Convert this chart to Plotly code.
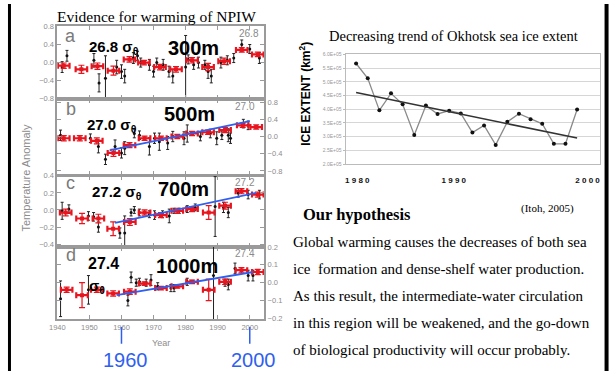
import plotly.graph_objects as go

W, H = 611, 376
def px(x): return x / W
def py(y): return 1 - y / H

# ---------------- data: left panels (temperature anomaly) ----------------
a_red_year = [1942, 1947.5, 1952.5, 1957.5, 1962.5, 1967, 1972, 1977, 1982, 1987, 1992, 1997.5, 2002.5]
a_red_val = [-0.07, -0.15, -0.08, -0.18, 0.07, 0.0, -0.1, -0.15, 0.05, -0.1, 0.03, 0.28, 0.18]
a_red_err = [0.06, 0.09, 0.07, 0.1, 0.06, 0.05, 0.06, 0.06, 0.06, 0.08, 0.07, 0.05, 0.05]
a_blk_year = [1941.5, 1943, 1951.4, 1953, 1955, 1958.5, 1960, 1961, 1963.7, 1965, 1966, 1968.7, 1970, 1971, 1973,
              1974.8, 1976, 1980, 1980.8, 1982.5, 1984, 1986, 1987, 1988, 1991, 1993, 1995, 1997.5, 2000, 2003]
a_blk_val = [-0.1, 0.15, 0.05, -0.45, -0.35, -0.1, -0.2, -0.3, 0.1, 0.15, 0.0, -0.05, -0.2, 0.0, -0.05,
             -0.2, -0.3, -0.1, 0.07, -0.05, 0.0, -0.05, -0.2, -0.3, 0.0, 0.05, 0.1, 0.4, 0.3, 0.1]
a_blk_err = [0.12, 0.12, 0.15, 0.2, 0.5, 0.15, 0.15, 0.15, 0.12, 0.1, 0.1, 0.12, 0.12, 0.1, 0.12,
             0.12, 0.15, 0.7, 0.1, 0.1, 0.12, 0.1, 0.15, 0.15, 0.12, 0.1, 0.1, 0.1, 0.1, 0.12]

b_red_year = [1942, 1947, 1952.3, 1957.5, 1962.5, 1967.2, 1972.3, 1977.4, 1982, 1987, 1992.3, 1997.8, 2002]
b_red_val = [-0.04, -0.04, -0.1, -0.38, -0.2, -0.04, -0.04, 0.0, 0.07, 0.1, 0.15, 0.26, 0.22]
b_red_err = [0.06, 0.06, 0.07, 0.08, 0.06, 0.05, 0.05, 0.05, 0.05, 0.05, 0.06, 0.05, 0.05]
b_blk_year = [1941, 1950.3, 1952.8, 1955, 1958, 1960, 1961, 1964, 1965.6, 1968.7, 1970.3, 1971.8, 1974.4, 1976,
              1979.5, 1980.5, 1984.6, 1987.7, 1989.7, 1991.3, 1993.3, 1994, 1998, 1999.5]
b_blk_val = [0.03, -0.04, -0.23, -0.53, -0.23, -0.38, -0.27, 0.07, 0.03, -0.23, -0.04, -0.12, -0.15, 0.0,
             -0.04, 0.07, 0.0, 0.07, -0.04, 0.03, 0.03, -0.04, 0.3, 0.26]
b_blk_err = [0.12, 0.1, 0.15, 0.12, 0.15, 0.12, 0.15, 0.1, 0.1, 0.2, 0.12, 0.2, 0.15, 0.12,
             0.15, 0.2, 0.1, 0.1, 0.15, 0.1, 0.15, 0.12, 0.1, 0.1]
b_trend_year = [1956.3, 2000]
b_trend_val = [-0.32, 0.36]

c_red_year = [1942.6, 1947.7, 1952.8, 1957.4, 1962.6, 1967.2, 1972.3, 1977.4, 1982, 1987.2, 1992.3, 1997.4, 2002.5]
c_red_val = [-0.03, -0.1, -0.1, -0.22, -0.14, -0.03, -0.06, -0.01, 0.01, -0.03, 0.05, 0.22, 0.18]
c_red_err = [0.04, 0.06, 0.05, 0.08, 0.04, 0.03, 0.03, 0.03, 0.03, 0.08, 0.04, 0.03, 0.03]
c_blk_year = [1941.5, 1943.6, 1949.7, 1951.3, 1952.8, 1959.5, 1961, 1963, 1964, 1965.6, 1968.7, 1970.3, 1972.8,
              1974.9, 1976.4, 1978, 1980.5, 1983, 1989.2, 1991.8, 1993.3, 1996.4, 1999.5, 2003]
c_blk_val = [-0.01, 0.01, -0.07, -0.08, -0.2, -0.27, -0.27, -0.03, 0.0, -0.03, -0.05, -0.06, -0.05,
             -0.07, -0.01, -0.01, 0.01, 0.03, 0.04, 0.03, -0.03, 0.2, 0.18, 0.18]
c_blk_err = [0.1, 0.05, 0.05, 0.05, 0.06, 0.06, 0.2, 0.04, 0.04, 0.04, 0.04, 0.05, 0.04,
             0.08, 0.03, 0.03, 0.04, 0.04, 0.35, 0.06, 0.06, 0.05, 0.05, 0.05]
c_trend_year = [1958, 2002]
c_trend_val = [-0.15, 0.2]

d_red_year = [1942.9, 1947.7, 1952.3, 1957.4, 1962.6, 1967.2, 1972.3, 1977.4, 1982, 1987.2, 1992.3, 1997.4, 2002.5]
d_red_val = [-0.04, -0.07, -0.04, -0.06, -0.05, -0.005, -0.03, -0.02, 0.005, -0.04, 0.005, 0.07, 0.06]
d_red_err = [0.015, 0.07, 0.015, 0.015, 0.015, 0.01, 0.01, 0.01, 0.01, 0.06, 0.015, 0.015, 0.015]
d_blk_year = [1941, 1949.7, 1962, 1963, 1964.6, 1965.6, 1967.7, 1969.2, 1971.3, 1975.4, 1976.4, 1980.5,
              1988.7, 1992.3, 1993.3, 1995.4, 1999.5, 2001]
d_blk_val = [-0.09, -0.04, -0.1, 0.03, 0.0, 0.005, 0.0, 0.015, -0.02, -0.03, -0.03, 0.005,
             0.04, 0.0, -0.01, 0.08, 0.04, 0.04]
d_blk_err = [0.1, 0.08, 0.03, 0.03, 0.02, 0.02, 0.02, 0.03, 0.02, 0.02, 0.02, 0.02,
             0.25, 0.02, 0.03, 0.03, 0.03, 0.03]
d_trend_year = [1958.5, 2001]
d_trend_val = [-0.07, 0.06]

year_ticks = [1940, 1950, 1960, 1970, 1980, 1990, 2000]

# ---------------- data: right chart (Okhotsk sea ice extent) ----------------
ice_year = [1980, 1981, 1982, 1983, 1984, 1985, 1986, 1987, 1988, 1989,
            1990, 1991, 1992, 1993, 1994, 1995, 1996, 1997, 1998, 1999]
ice_val = [5.67e5, 5.13e5, 3.96e5, 4.58e5, 4.18e5, 3.06e5, 4.14e5, 3.83e5, 3.95e5, 3.85e5,
           3.15e5, 3.41e5, 2.70e5, 3.54e5, 3.84e5, 3.64e5, 3.47e5, 2.74e5, 2.74e5, 3.99e5]
ice_trend_year = [1980, 1999]
ice_trend_val = [4.61e5, 2.95e5]
ice_tick_pos = [1980.1, 1988.4, 1999.9]
ice_tick_text = ["1 9 8 0", "1 9 9 0", "2 0 0 0"]
ice_ytick_val = [2.0e5, 2.5e5, 3.0e5, 3.5e5, 4.0e5, 4.5e5, 5.0e5, 5.5e5, 6.0e5]
ice_ytick_text = ["2.0E+05", "2.5E+05", "3.0E+05", "3.5E+05", "4.0E+05", "4.5E+05", "5.0E+05", "5.5E+05", "6.0E+05"]

SANS = "Liberation Sans"
SERIF = "Liberation Serif"
GRAY = "#8c8c8c"
BLUE = "#2f5ff0"

fig = go.Figure()

panels = [
    (a_red_year, a_red_val, a_red_err, a_blk_year, a_blk_val, a_blk_err, None, None),
    (b_red_year, b_red_val, b_red_err, b_blk_year, b_blk_val, b_blk_err, b_trend_year, b_trend_val),
    (c_red_year, c_red_val, c_red_err, c_blk_year, c_blk_val, c_blk_err, c_trend_year, c_trend_val),
    (d_red_year, d_red_val, d_red_err, d_blk_year, d_blk_val, d_blk_err, d_trend_year, d_trend_val),
]

for i, (ry, rv, re, ky, kv, ke, ty, tv) in enumerate(panels):
    xa = "x" if i == 0 else f"x{i+1}"
    ya = "y" if i == 0 else f"y{i+1}"
    fig.add_trace(go.Scatter(x=ky, y=kv, mode="markers", xaxis=xa, yaxis=ya,
                             marker=dict(size=3, color="#111"),
                             error_y=dict(type="data", array=ke, color="#222", thickness=1, width=1.5),
                             showlegend=False, hoverinfo="skip"))
    fig.add_trace(go.Scatter(x=ry, y=rv, mode="markers", xaxis=xa, yaxis=ya,
                             marker=dict(size=4, color="#e8141e", symbol="square"),
                             error_x=dict(type="constant", value=1.8, color="#e8141e", thickness=2.2, width=3),
                             error_y=dict(type="data", array=re, color="#e8141e", thickness=1.2, width=3),
                             showlegend=False, hoverinfo="skip"))
    if ty is not None:
        fig.add_trace(go.Scatter(x=ty, y=tv, mode="lines", xaxis=xa, yaxis=ya,
                                 line=dict(color=BLUE, width=1.8),
                                 showlegend=False, hoverinfo="skip"))

# right chart
fig.add_trace(go.Scatter(x=ice_year, y=ice_val, mode="lines+markers", xaxis="x5", yaxis="y5",
                         line=dict(color="#8a8a8a", width=1.3),
                         marker=dict(size=4, color="#111"),
                         showlegend=False, hoverinfo="skip"))
fig.add_trace(go.Scatter(x=ice_trend_year, y=ice_trend_val, mode="lines", xaxis="x5", yaxis="y5",
                         line=dict(color="#333", width=1.6),
                         showlegend=False, hoverinfo="skip"))

# ---------------- axes ----------------
ydoms = [(23, 97), (97, 175), (176, 249), (249, 323)]
yranges = [[-0.8, 0.8], [-0.89, 0.88], [-0.434, 0.4], [-0.205, 0.2]]
yticks = [[-0.8, -0.4, 0.0, 0.4, 0.8], [-0.8, -0.4, 0.0, 0.4, 0.8],
          [-0.4, -0.2, 0.0, 0.2, 0.4], [-0.2, -0.1, 0.0, 0.1, 0.2]]
ysides = ["left", "right", "left", "right"]

layout = dict(width=W, height=H, margin=dict(l=0, r=0, t=0, b=0),
              paper_bgcolor="white", plot_bgcolor="white", showlegend=False)

for i in range(4):
    xk = "xaxis" if i == 0 else f"xaxis{i+1}"
    yk = "yaxis" if i == 0 else f"yaxis{i+1}"
    ya = "y" if i == 0 else f"y{i+1}"
    xa = "x" if i == 0 else f"x{i+1}"
    layout[xk] = dict(range=[1940, 2004.5], domain=[px(50), px(259.6)], anchor=ya,
                      showline=True, mirror="allticks", linecolor="#9a9a9a", linewidth=1.8,
                      ticks="inside", ticklen=4, tickcolor="#9a9a9a", tickvals=year_ticks,
                      showgrid=False, zeroline=False, showticklabels=(i == 3),
                      tickfont=dict(family=SANS, size=7.5, color=GRAY))
    top, bot = ydoms[i]
    layout[yk] = dict(range=yranges[i], domain=[py(bot), py(top)], anchor=xa, side=ysides[i],
                      showline=True, mirror="allticks", linecolor="#9a9a9a", linewidth=1.8,
                      ticks="inside", ticklen=4, tickcolor="#9a9a9a", tickvals=yticks[i],
                      tickformat=".1f", showgrid=False, zeroline=False,
                      tickfont=dict(family=SANS, size=7.5, color=GRAY))

layout["xaxis5"] = dict(range=[1979.09, 2000.98], domain=[px(342), px(600)], anchor="y5",
                        showline=True, mirror=True, linecolor="#bbbbbb", linewidth=1,
                        showgrid=False, zeroline=False, ticks="", ticklabelstandoff=8,
                        tickvals=ice_tick_pos, ticktext=ice_tick_text,
                        tickfont=dict(family=SANS, size=8, color="#111", weight="bold"))
layout["yaxis5"] = dict(range=[2.0e5, 6.0e5], domain=[py(164), py(51.7)], anchor="x5",
                        showline=True, mirror=True, linecolor="#bbbbbb", linewidth=1,
                        showgrid=True, gridcolor="#d6d6d6", gridwidth=1, zeroline=False,
                        ticks="outside", ticklen=2, tickcolor="#bbbbbb",
                        tickvals=ice_ytick_val, ticktext=ice_ytick_text,
                        tickfont=dict(family=SANS, size=5, color="#999"))

fig.update_layout(**layout)

# ---------------- annotations ----------------
ann = []
def T(x, y, text, size, color="#000", family=SANS, xanchor="center", yanchor="middle", angle=0, bold=False):
    ann.append(dict(x=px(x), y=py(y), xref="paper", yref="paper", text=text, showarrow=False,
                    xanchor=xanchor, yanchor=yanchor, textangle=angle,
                    font=dict(family=family, size=size, color=color, weight="bold" if bold else "normal")))

T(150, 13, "Evidence for warming of NPIW", 15.5, family=SERIF)
T(18, 178, "Temperature Anomaly", 11, color=GRAY, angle=-90)
T(155, 347, "Year", 9, color=GRAY)

# panel labels
for (lx, ly, lt, gx, gy, gt) in [(63, 33, "a", 244, 30, "26.8"), (64, 108, "b", 240, 105, "27.0"),
                                 (63, 183, "c", 240, 183, "27.2"), (64, 257, "d", 240, 256, "27.4")]:
    T(lx, ly, lt, 18, color="#7a7a7a")
    T(gx, gy, gt, 10, color="#8a8a8a")

T(80, 45, "26.8 σ<sub>θ</sub>", 15, xanchor="left", bold=True)
T(188, 45, "300m", 20, bold=True)
T(78, 124, "27.0 σ<sub>θ</sub>", 15, xanchor="left", bold=True)
T(184, 113, "500m", 20, bold=True)
T(83, 193, "27.2 σ<sub>θ</sub>", 15, xanchor="left", bold=True)
T(178, 190, "700m", 20, bold=True)
T(79, 266, "27.4", 16, xanchor="left", bold=True)
T(80, 289, "σ<sub>θ</sub>", 15, xanchor="left", bold=True)
T(181, 268, "1000m", 20, bold=True)

T(119, 365, "1960", 20, color=BLUE)
T(249, 365, "2000", 20, color=BLUE)

# right side texts
T(451, 33, "Decreasing trend of Okhotsk sea ice extent", 14.5, family=SERIF)
T(301, 92, "ICE EXTENT (km<sup>2</sup>)", 12, bold=True, angle=-90)
T(297, 216, "Our hypothesis", 16.5, family=SERIF, xanchor="left", bold=True)
T(547, 210, "(Itoh, 2005)", 11, family=SERIF)
para = ["Global warming causes the decreases of both sea",
        "ice  formation and dense-shelf water production.",
        "As this result, the intermediate-water circulation",
        "in this region will be weakened, and the go-down",
        "of biological productivity will occur probably."]
for k, line in enumerate(para):
    T(287, 244 + k * 27.5, line.replace("  ", "&nbsp; "), 15, family=SERIF, xanchor="left")

fig.update_layout(annotations=ann)

# ---------------- shapes ----------------
shapes = [
    dict(type="line", xref="x4", yref="paper", x0=1960, x1=1960, y0=py(331), y1=py(348),
         line=dict(color=BLUE, width=1.5)),
    dict(type="line", xref="x4", yref="paper", x0=2000, x1=2000, y0=py(331), y1=py(348),
         line=dict(color=BLUE, width=1.5)),
    dict(type="line", xref="paper", yref="paper", x0=px(1.5), x1=px(1.5), y0=0, y1=1,
         line=dict(color="#000", width=3)),
    dict(type="line", xref="paper", yref="paper", x0=px(606.5), x1=px(606.5), y0=0, y1=1,
         line=dict(color="#000", width=4)),
]
fig.update_layout(shapes=shapes)

fig.write_html("out.html")
